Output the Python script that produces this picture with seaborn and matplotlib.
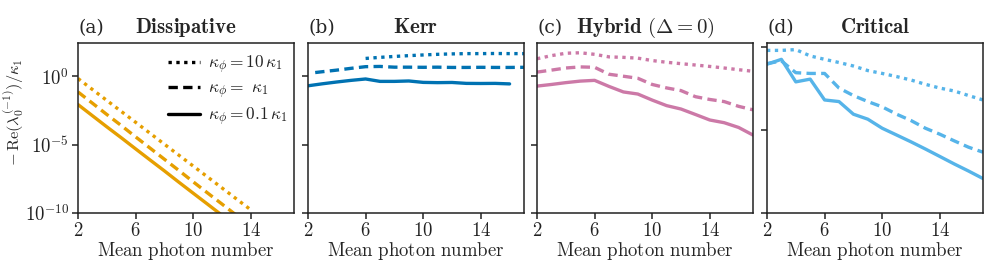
import numpy as np
import pandas as pd
import matplotlib
matplotlib.use("Agg")
import matplotlib.pyplot as plt
import seaborn as sns
from matplotlib.ticker import NullLocator, FixedLocator
from matplotlib.lines import Line2D

# ---------------- data ----------------
kappa_labels = [r"$\kappa_\phi = 10\,\kappa_1$", r"$\kappa_\phi = \ \kappa_1$", r"$\kappa_\phi = 0.1\,\kappa_1$"]

# (a) Dissipative
a_dot_x = [2, 3, 4, 5, 6, 7, 8, 9, 10, 11, 12, 13, 14]
a_dot_y = [0.68, 0.107, 0.017, 2.7e-3, 4.3e-4, 6.8e-5, 1.07e-5, 1.7e-6, 2.7e-7, 4.3e-8, 6.8e-9, 1.07e-9, 1.7e-10]
a_dash_x = [2, 3, 4, 5, 6, 7, 8, 9, 10, 11, 12, 13]
a_dash_y = [7.1e-2, 1.07e-2, 1.6e-3, 2.5e-4, 3.7e-5, 5.6e-6, 8.5e-7, 1.3e-7, 1.9e-8, 2.9e-9, 4.5e-10, 6.8e-11]
a_sol_x = [2, 3, 4, 5, 6, 7, 8, 9, 10, 11, 12]
a_sol_y = [8.5e-3, 1.3e-3, 2.0e-4, 3.2e-5, 4.9e-6, 7.6e-7, 1.2e-7, 1.8e-8, 2.8e-9, 4.4e-10, 6.8e-11]

# (b) Kerr
b_dot_x = [6, 7, 8, 9, 10, 11, 12, 13, 14, 15, 16, 17]
b_dot_y = [20, 24, 28, 32, 36, 40, 43, 45, 45, 46, 45, 45]
b_dash_x = [2.5, 3, 4, 5, 6, 7, 8, 9, 10, 11, 12, 13, 14, 15, 16, 17]
b_dash_y = [1.86, 2.14, 2.8, 3.8, 5.0, 5.2, 4.6, 4.6, 4.5, 4.6, 4.4, 4.4, 4.5, 4.4, 4.4, 4.5]
b_sol_x = [2, 3, 4, 5, 6, 7, 8, 9, 10, 11, 12, 13, 14, 15, 16]
b_sol_y = [0.20, 0.28, 0.38, 0.50, 0.63, 0.42, 0.42, 0.45, 0.355, 0.34, 0.35, 0.30, 0.295, 0.30, 0.275]

# (c) Hybrid
c_x = [2, 3, 4, 5, 6, 7, 8, 9, 10, 11, 12, 13, 14, 15, 16, 17]
c_dot_y = [19, 32, 48, 52, 40, 26, 24, 21, 14, 10.5, 8.3, 6.6, 5.2, 4.0, 3.0, 2.3]
c_dash_y = [2.0, 2.8, 4.0, 4.8, 4.5, 1.4, 1.0, 0.71, 0.25, 0.14, 0.089, 0.032, 0.020, 0.014, 6.3e-3, 3.5e-3]
c_sol_y = [0.19, 0.25, 0.34, 0.44, 0.50, 0.18, 0.071, 0.050, 0.018, 7.1e-3, 4.0e-3, 1.6e-3, 6.3e-4, 4.0e-4, 1.8e-4, 5.0e-5]

# (d) Critical
d_x = [2, 3, 4, 5, 6, 7, 8, 9, 10, 11, 12, 13, 14, 15, 16, 17]
d_dot_y = [0.91, 0.91, 0.93, 0.78, 0.71, 0.65, 0.59, 0.52, 0.48, 0.44, 0.40, 0.355, 0.32, 0.295, 0.26, 0.23]
d_dash_y = [0.63, 0.68, 0.49, 0.48, 0.48, 0.32, 0.26, 0.22, 0.19, 0.155, 0.13, 0.105, 0.089, 0.074, 0.062, 0.054]
d_sol_y = [0.62, 0.71, 0.38, 0.41, 0.23, 0.22, 0.155, 0.135, 0.105, 0.087, 0.072, 0.059, 0.048, 0.039, 0.032, 0.026]

panel_letters = ["(a)", "(b)", "(c)", "(d)"]
panel_titles = [r"$\mathbf{Dissipative}$", r"$\mathbf{Kerr}$", r"$\mathbf{Hybrid}\ (\Delta = 0)$", r"$\mathbf{Critical}$"]
panel_colors = ["#E69F00", "#0072B2", "#CC79A7", "#56B4E9"]
xticks = [2, 6, 10, 14]
xtick_labels = [r"$2$", r"$6$", r"$10$", r"$14$"]
yticks_main = [1e-10, 1e-5, 1e0]
ytick_labels_main = [r"$10^{-10}$", r"$10^{-5}$", r"$10^{0}$"]
yticks_d = [1e-2, 1e-1, 1e0]

# ---------------- style ----------------
sns.set_style("ticks")
plt.rcParams["font.family"] = ["DejaVu Serif"]
plt.rcParams["mathtext.fontset"] = "cm"
plt.rcParams["axes.linewidth"] = 1.1
plt.rcParams["xtick.major.width"] = 1.1
plt.rcParams["ytick.major.width"] = 1.1
plt.rcParams["xtick.major.size"] = 4.5
plt.rcParams["ytick.major.size"] = 4.5

FS = 13.5
TFS = 15
LFS = 12.5
YFS = 11.8

def make_df(series):
    rows = []
    for lab, xs, ys in series:
        for x, y in zip(xs, ys):
            rows.append({"n": x, "val": y, "kappa": lab})
    return pd.DataFrame(rows)

panels = [
    make_df([(kappa_labels[0], a_dot_x, a_dot_y), (kappa_labels[1], a_dash_x, a_dash_y), (kappa_labels[2], a_sol_x, a_sol_y)]),
    make_df([(kappa_labels[0], b_dot_x, b_dot_y), (kappa_labels[1], b_dash_x, b_dash_y), (kappa_labels[2], b_sol_x, b_sol_y)]),
    make_df([(kappa_labels[0], c_x, c_dot_y), (kappa_labels[1], c_x, c_dash_y), (kappa_labels[2], c_x, c_sol_y)]),
    make_df([(kappa_labels[0], d_x, d_dot_y), (kappa_labels[1], d_x, d_dash_y), (kappa_labels[2], d_x, d_sol_y)]),
]

dash_map = {kappa_labels[0]: (1.0, 1.35), kappa_labels[1]: (2.8, 1.6), kappa_labels[2]: ""}

fig = plt.figure(figsize=(9.97, 2.63), dpi=100)
lefts = [78, 308, 537, 767]
W = 216 / 997
B = 1 - 213 / 263
H = (213 - 43) / 263

for i in range(4):
    ax = fig.add_axes([lefts[i] / 997, B, W, H])
    sns.lineplot(data=panels[i], x="n", y="val", style="kappa", dashes=dash_map,
                 style_order=kappa_labels, color=panel_colors[i], linewidth=2.4,
                 ax=ax, legend=False, estimator=None)
    ax.set_yscale("log")
    ax.set_xlim(2, 17)
    ax.set_xticks(xticks)
    ax.set_xticklabels(xtick_labels, fontsize=FS)
    if i < 3:
        ax.set_ylim(1e-10, 10 ** 2.43)
        ax.yaxis.set_major_locator(FixedLocator(yticks_main))
        if i == 0:
            ax.set_yticklabels(ytick_labels_main, fontsize=FS)
        else:
            ax.set_yticklabels([])
    else:
        ax.set_ylim(1e-2, 10 ** 0.048)
        ax.yaxis.set_major_locator(FixedLocator(yticks_d))
        ax.set_yticklabels([])
    ax.yaxis.set_minor_locator(NullLocator())
    ax.xaxis.set_minor_locator(NullLocator())
    ax.tick_params(axis="x", pad=2, colors="#222222")
    ax.tick_params(axis="y", pad=2, colors="#222222")
    for s in ax.spines.values():
        s.set_visible(True)
        s.set_color("#222222")
    ax.set_xlabel(r"$\mathrm{Mean\ photon\ number}$", fontsize=FS, labelpad=0)
    if i == 0:
        ax.set_ylabel(r"$-\,\mathrm{Re}(\lambda_0^{(-1)})/\kappa_1$", fontsize=YFS)
        ax.yaxis.set_label_coords(-0.24, 0.59)
    else:
        ax.set_ylabel("")
    ax.set_title(panel_letters[i], loc="left", fontsize=FS, pad=7)
    ax.set_title(panel_titles[i], loc="center", fontsize=TFS, pad=7)

    if i == 0:
        handles = [Line2D([], [], color="black", linewidth=2.4, dashes=dash_map[k]) if dash_map[k] else
                   Line2D([], [], color="black", linewidth=2.4) for k in kappa_labels]
        ax.legend(handles, kappa_labels, loc="upper right", frameon=False, fontsize=LFS,
                  handlelength=1.85, borderaxespad=0.2, labelspacing=0.27, handletextpad=0.46,
                  bbox_to_anchor=(1.02, 1.0))

fig.savefig("out.png", dpi=100)
